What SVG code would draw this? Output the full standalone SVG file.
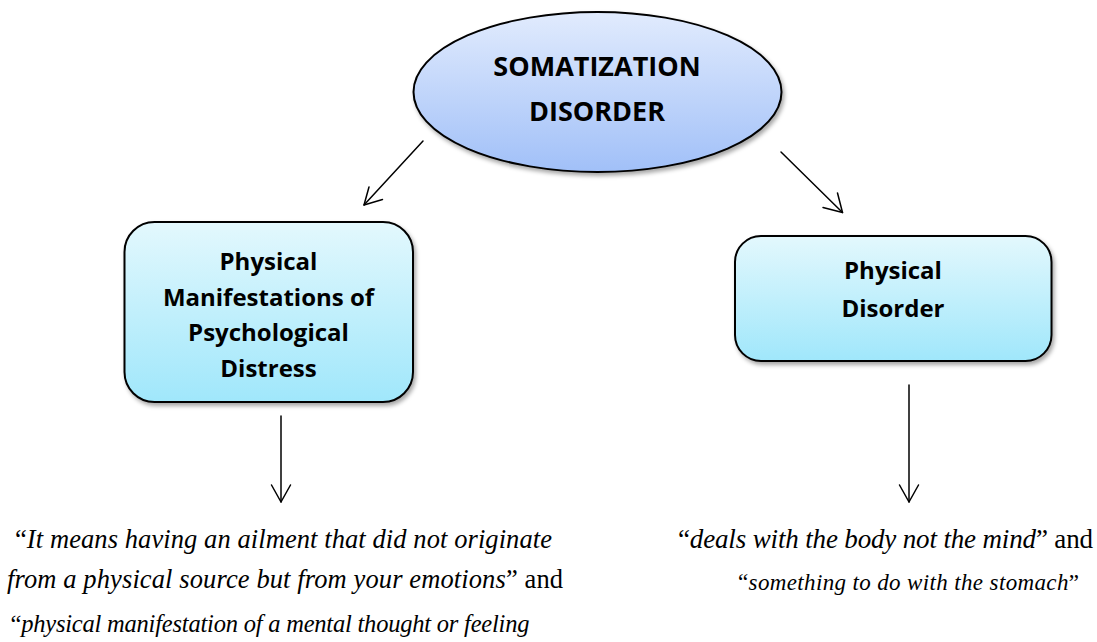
<svg xmlns="http://www.w3.org/2000/svg" width="1097" height="642" viewBox="0 0 1097 642">
  <defs>
    <linearGradient id="ovalFill" x1="0" y1="0" x2="0" y2="1">
      <stop offset="0" stop-color="#e1ebfd"/>
      <stop offset="1" stop-color="#a1c0f8"/>
    </linearGradient>
    <linearGradient id="boxFill" x1="0" y1="0" x2="0" y2="1">
      <stop offset="0" stop-color="#e3f8fd"/>
      <stop offset="1" stop-color="#a0e7fb"/>
    </linearGradient>
    <filter id="shadow" x="-10%" y="-10%" width="125%" height="130%">
      <feDropShadow dx="2" dy="3" stdDeviation="2" flood-color="#000" flood-opacity="0.35"/>
    </filter>
  </defs>
  <style>
    .shape { stroke: #000; stroke-width: 2; filter: url(#shadow); }
    .head { font-family: "Open Sans", "Liberation Sans", sans-serif; font-weight: bold; fill: #000; text-anchor: middle; }
    .quote { font-family: "Liberation Serif", "Times New Roman", serif; fill: #000; }
    .it { font-style: italic; }
    .conn { stroke: #000; stroke-width: 1.5; fill: none; stroke-linecap: round; stroke-linejoin: round; }
  </style>

  <rect width="1097" height="642" fill="#fff"/>

  <!-- root oval -->
  <g id="somatization">
    <ellipse class="shape" cx="597.5" cy="92" rx="184" ry="80" fill="url(#ovalFill)"/>
    <text class="head" font-size="27" x="597" y="76">SOMATIZATION</text>
    <text class="head" font-size="27" x="597" y="121">DISORDER</text>
  </g>

  <!-- left branch box -->
  <g id="manifestations">
    <rect class="shape" x="124.5" y="222" width="288.5" height="180" rx="30" ry="30" fill="url(#boxFill)"/>
    <text class="head" font-size="24" x="268.5" y="270">Physical</text>
    <text class="head" font-size="24" x="268.5" y="306">Manifestations of</text>
    <text class="head" font-size="24" x="268.5" y="341">Psychological</text>
    <text class="head" font-size="24" x="268.5" y="377">Distress</text>
  </g>

  <!-- right branch box -->
  <g id="physical-disorder">
    <rect class="shape" x="735" y="236" width="316.5" height="125" rx="26" ry="26" fill="url(#boxFill)"/>
    <text class="head" font-size="24" x="893" y="279">Physical</text>
    <text class="head" font-size="24" x="893" y="317">Disorder</text>
  </g>

  <!-- quotations under the left box -->
  <g id="left-quotes">
    <text class="quote" x="15" y="548" font-size="26.5" textLength="537" lengthAdjust="spacing">“<tspan class="it">It means having an ailment that did not originate</tspan></text>
    <text class="quote" x="7" y="588" font-size="26.5" textLength="556" lengthAdjust="spacing"><tspan class="it">from a physical source but from your emotions</tspan>” and</text>
    <text class="quote" x="10.5" y="632" font-size="24.5" textLength="519" lengthAdjust="spacing">“<tspan class="it">physical manifestation of a mental thought or feeling</tspan></text>
  </g>

  <!-- quotations under the right box -->
  <g id="right-quotes">
    <text class="quote" x="678" y="548" font-size="27" textLength="415" lengthAdjust="spacing">“<tspan class="it">deals with the body not the mind</tspan>” and</text>
    <text class="quote" x="738" y="590" font-size="23" textLength="341" lengthAdjust="spacing">“<tspan class="it">something to do with the stomach</tspan>”</text>
  </g>

  <!-- connectors -->
  <g id="connectors">
    <path class="conn" d="M423 141 L364 205"/>
    <path class="conn" d="M369 187 L364 205 L382.5 199.5"/>
    <path class="conn" d="M781 152 L842.5 212.5"/>
    <path class="conn" d="M823 207.5 L842.5 212.5 L837.5 193"/>
    <path class="conn" d="M281 416 L281 502"/>
    <path class="conn" d="M271.5 485 L281 502 L290.5 485"/>
    <path class="conn" d="M909 385 L909 502"/>
    <path class="conn" d="M899.5 485 L909 502 L918.5 485"/>
  </g>
</svg>
